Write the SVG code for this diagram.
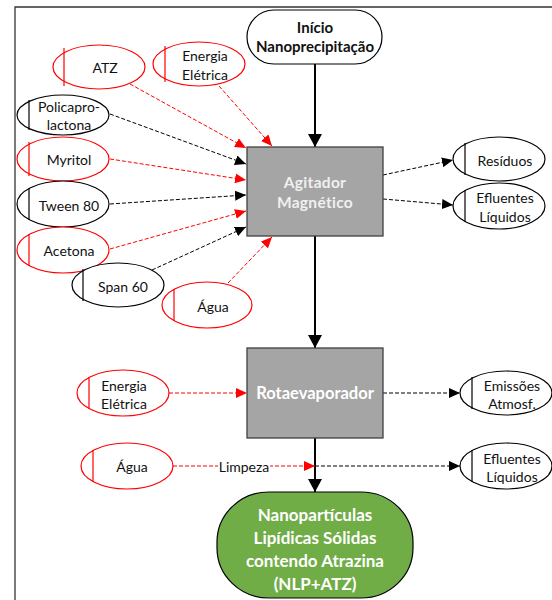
<svg xmlns="http://www.w3.org/2000/svg" width="552" height="600" viewBox="0 0 552 600">
<style>
text{font-family:Lato,"Liberation Sans",sans-serif;font-size:14px;fill:#111;text-anchor:middle;dominant-baseline:central}
.in{fill:#fff;stroke:#ff0000;stroke-width:1.2}
.out{fill:#fff;stroke:#000;stroke-width:1.2}
.bar-r{stroke:#ff0000;stroke-width:1.2}
.bar-k{stroke:#000;stroke-width:1.2}
.proc{fill:#a5a5a5;stroke:#404040;stroke-width:1.3}
.dr{stroke:#ff0000;stroke-width:1;stroke-dasharray:4 2;fill:none;marker-end:url(#ar)}
.dk{stroke:#000;stroke-width:1;stroke-dasharray:4 2;fill:none;marker-end:url(#ak)}
.sk{stroke:#000;stroke-width:2;fill:none;marker-end:url(#as)}
.wb{fill:#fff;font-weight:bold;font-size:17px}
</style>
<defs>
<marker id="ar" markerUnits="userSpaceOnUse" markerWidth="12" markerHeight="10" refX="11" refY="5" orient="auto"><path d="M0,0 L11,5 L0,10 Z" fill="#ff0000"/></marker>
<marker id="ak" markerUnits="userSpaceOnUse" markerWidth="12" markerHeight="10" refX="11" refY="5" orient="auto"><path d="M0,0 L11,5 L0,10 Z" fill="#000"/></marker>
<marker id="as" markerUnits="userSpaceOnUse" markerWidth="14" markerHeight="14" refX="13" refY="7" orient="auto"><path d="M0,0 L13,7 L0,14 Z" fill="#000"/></marker>
</defs>
<g id="frame"><path d="M15,600 V7 H552" fill="none" stroke="#333" stroke-width="1.3"/></g>

<g id="connectors">
<line class="sk" x1="315" y1="64" x2="315" y2="147"/>
<line class="sk" x1="315" y1="236" x2="315" y2="348"/>
<line class="sk" x1="315" y1="438" x2="315" y2="492"/>
<line class="dr" x1="130" y1="84" x2="246" y2="148"/>
<line class="dr" x1="219" y1="86" x2="272" y2="146"/>
<line class="dk" x1="110" y1="114" x2="246" y2="164"/>
<line class="dr" x1="110" y1="159" x2="246" y2="180"/>
<line class="dk" x1="110" y1="204" x2="246" y2="195"/>
<line class="dr" x1="110" y1="249" x2="246" y2="211"/>
<line class="dk" x1="152" y1="270" x2="246" y2="227"/>
<line class="dr" x1="228" y1="283" x2="272" y2="237"/>
<line class="dk" x1="383" y1="175" x2="453" y2="160"/>
<line class="dk" x1="383" y1="199" x2="453" y2="205"/>
<line class="dr" x1="169" y1="393" x2="247" y2="393"/>
<line class="dk" x1="383" y1="393" x2="460" y2="393"/>
<line class="dr" x1="173" y1="466" x2="315" y2="466"/>
<line class="dk" x1="315" y1="466" x2="460" y2="466"/>
<rect x="218" y="458" width="52" height="16" fill="#fff"/>
<text x="244" y="466">Limpeza</text>
</g>

<g id="inicio"><rect x="247" y="10" width="135" height="54" rx="27" fill="#fff" stroke="#000" stroke-width="1.2"/>
<text x="315" y="27" style="font-weight:bold;font-size:15px">Início</text>
<text x="315" y="46" style="font-weight:bold;font-size:15px">Nanoprecipitação</text></g>

<g id="agitador"><rect class="proc" x="247" y="147" width="136" height="89"/>
<text x="315" y="182" style="fill:#f0f0f0;font-weight:bold;font-size:15.5px;letter-spacing:0.3px">Agitador</text>
<text x="315" y="202" style="fill:#f0f0f0;font-weight:bold;font-size:15.5px;letter-spacing:0.3px">Magnético</text></g>

<g id="rotaevaporador"><rect class="proc" x="247" y="348" width="136" height="90"/>
<text x="315" y="393" class="wb" style="font-size:16.5px">Rotaevaporador</text></g>

<g id="nlp"><rect x="217" y="492" width="196" height="106" rx="52" ry="50" fill="#70ad47" stroke="#000" stroke-width="1.2"/>
<text x="315" y="514" class="wb">Nanopartículas</text>
<text x="315" y="537" class="wb">Lipídicas Sólidas</text>
<text x="315" y="560" class="wb">contendo Atrazina</text>
<text x="315" y="583" class="wb">(NLP+ATZ)</text></g>

<g id="atz"><ellipse class="in" cx="99" cy="67" rx="46" ry="22"/><line class="bar-r" x1="64" y1="48" x2="64" y2="86"/><text x="105" y="67">ATZ</text></g>
<g id="energia1"><ellipse class="in" cx="199" cy="64" rx="46" ry="22"/><line class="bar-r" x1="165" y1="46" x2="165" y2="82"/><text x="205" y="55">Energia</text><text x="205" y="74">Elétrica</text></g>
<g id="policaprolactona"><ellipse class="out" cx="63" cy="115" rx="46" ry="20"/><line class="bar-k" x1="29" y1="100" x2="29" y2="130"/><text x="69" y="106">Policapro-</text><text x="69" y="124">lactona</text></g>
<g id="myritol"><ellipse class="in" cx="63" cy="159" rx="46" ry="22"/><line class="bar-r" x1="29" y1="142" x2="29" y2="176"/><text x="69" y="159">Myritol</text></g>
<g id="tween80"><ellipse class="out" cx="63" cy="204" rx="46" ry="23"/><line class="bar-k" x1="29" y1="188" x2="29" y2="220"/><text x="69" y="205">Tween 80</text></g>
<g id="acetona"><ellipse class="in" cx="63" cy="250" rx="46" ry="23"/><line class="bar-r" x1="29" y1="234" x2="29" y2="266"/><text x="69" y="250">Acetona</text></g>
<g id="span60"><ellipse class="out" cx="118" cy="285" rx="46" ry="22"/><line class="bar-k" x1="83" y1="269" x2="83" y2="301"/><text x="123" y="286">Span 60</text></g>
<g id="agua1"><ellipse class="in" cx="207" cy="305" rx="45" ry="23"/><line class="bar-r" x1="174" y1="289" x2="174" y2="321"/><text x="213" y="306">Água</text></g>

<g id="residuos"><ellipse class="out" cx="499" cy="159" rx="46" ry="22"/><line class="bar-k" x1="465" y1="143" x2="465" y2="175"/><text x="505" y="160">Resíduos</text></g>
<g id="efluentes1"><ellipse class="out" cx="499" cy="206" rx="46" ry="23"/><line class="bar-k" x1="465" y1="190" x2="465" y2="222"/><text x="505" y="197">Efluentes</text><text x="505" y="216">Líquidos</text></g>

<g id="energia2"><ellipse class="in" cx="123" cy="393" rx="46" ry="23"/><line class="bar-r" x1="89" y1="377" x2="89" y2="409"/><text x="124" y="385">Energia</text><text x="124" y="403">Elétrica</text></g>
<g id="emissoes"><ellipse class="out" cx="506" cy="393" rx="46" ry="22"/><line class="bar-k" x1="472" y1="377" x2="472" y2="409"/><text x="512" y="385">Emissões</text><text x="512" y="403">Atmosf.</text></g>
<g id="agua2"><ellipse class="in" cx="127" cy="466" rx="46" ry="23"/><line class="bar-r" x1="93" y1="450" x2="93" y2="482"/><text x="132" y="466">Água</text></g>
<g id="efluentes2"><ellipse class="out" cx="506" cy="466" rx="46" ry="23"/><line class="bar-k" x1="472" y1="450" x2="472" y2="482"/><text x="512" y="458">Efluentes</text><text x="512" y="476">Líquidos</text></g>
</svg>
